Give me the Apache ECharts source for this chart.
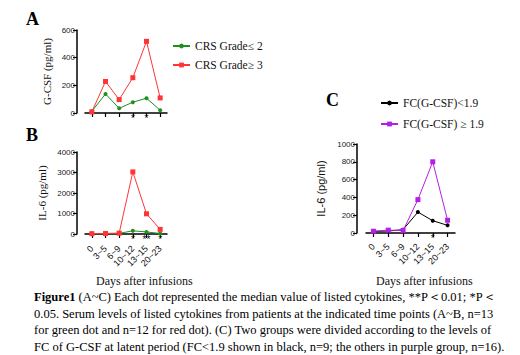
<!DOCTYPE html>
<html>
<head>
<meta charset="utf-8">
<script src="https://cdn.jsdelivr.net/npm/echarts@6/dist/echarts.min.js"></script>
<style>
  html, body { margin: 0; padding: 0; background: #fff; }
  #chart { width: 520px; height: 355px; }
</style>
</head>
<body>
<div id="chart"></div>
<script>
// time points (days after infusion)
const days = ['0', '3~5', '6~9', '10~12', '13~15', '20~23'];

// panel A: G-CSF medians
const gcsfLow = [12, 138, 34, 78, 107, 20];
const gcsfHigh = [8, 228, 97, 255, 518, 109];
const starsA = ['', '', '', '*', '*', ''];

// panel B: IL-6 medians
const il6Low = [20, 25, 30, 155, 100, 25];
const il6High = [15, 25, 40, 3030, 985, 225];
const starsB = ['', '', '', '*', '**', '*'];

// panel C: IL-6 by fold change of G-CSF
const fcLow = [18, 22, 38, 235, 138, 86];
const fcHigh = [20, 32, 28, 375, 800, 143];
const starsC = ['', '', '', '', '*', ''];

const captionLines = [
  '0.05. Serum levels of listed cytokines from patients at the indicated time points (A~B, n=13',
  'for green dot and n=12 for red dot). (C) Two groups were divided according to the levels of',
  'FC of G-CSF at latent period (FC<1.9 shown in black, n=9; the others in purple group, n=16).'
];

const SERIF = "'Liberation Serif', serif";
const SANS = "'Liberation Sans', sans-serif";

const GREEN = '#1f8f1f', RED = '#ff3535', BLACK = '#000', PURPLE = '#b41ee6';

const chart = echarts.init(document.getElementById('chart'), null, { renderer: 'svg' });

// helpers for the prism-like axes
function valueAxis(grid, max, interval, name, font, gap, offset) {
  return {
    type: 'value', gridIndex: grid, min: 0, max: max, interval: interval,
    offset: offset,
    name: name, nameLocation: 'middle', nameGap: gap, nameRotate: 90,
    nameTextStyle: { fontFamily: font, fontSize: 11, color: '#111' },
    axisLine: { show: true, lineStyle: { color: '#000', width: 1.5 } },
    axisTick: { show: true, length: 4, lineStyle: { color: '#000', width: 1.2 } },
    axisLabel: { fontFamily: SANS, fontSize: 8, color: '#222', margin: 2, formatter: v => String(v) },
    splitLine: { show: false }
  };
}
function dayAxis(grid, showLabels, offset) {
  return {
    type: 'category', gridIndex: grid, data: days, offset: offset,
    axisLine: { show: true, lineStyle: { color: '#000', width: 1.5 } },
    axisTick: { show: true, alignWithLabel: true, length: 4, lineStyle: { color: '#000', width: 1.2 } },
    axisLabel: { show: showLabels, rotate: 45, fontFamily: SANS, fontSize: 9, color: '#111', margin: 4, interval: 0 }
  };
}
function starAxis(grid, stars) {
  return {
    type: 'category', gridIndex: grid, data: days, position: 'bottom',
    axisLine: { show: false }, axisTick: { show: false },
    axisLabel: { interval: 0, margin: 0, fontFamily: SANS, fontSize: 10, color: '#111',
      formatter: (v, i) => stars[i] }
  };
}
function lineSeries(name, data, color, symbol, xi, yi) {
  return {
    type: 'line', name: name, data: data, xAxisIndex: xi, yAxisIndex: yi,
    symbol: symbol, symbolSize: symbol === 'rect' ? 5 : 4,
    lineStyle: { color: color, width: 1 }, itemStyle: { color: color },
    animation: false
  };
}

const option = {
  backgroundColor: '#fff',
  animation: false,
  grid: [
    { left: 85, width: 82, top: 30, height: 83 },
    { left: 85, width: 82, top: 152, height: 82 },
    { left: 366, width: 89, top: 144, height: 89 }
  ],
  xAxis: [
    dayAxis(0, false, 9), starAxis(0, starsA),
    dayAxis(1, true, 9), starAxis(1, starsB),
    dayAxis(2, true, 8), starAxis(2, starsC)
  ],
  yAxis: [
    valueAxis(0, 600, 200, 'G-CSF (pg/ml)', SERIF, 25, 8),
    valueAxis(1, 4000, 1000, 'IL-6 (pg/ml)', SERIF, 30, 8),
    valueAxis(2, 1000, 200, 'IL-6 (pg/ml)', SANS, 31, 9)
  ],
  legend: [
    {
      data: ['CRS Grade≤ 2', 'CRS Grade≥ 3'], orient: 'vertical', left: 167, top: 35,
      itemWidth: 17, itemHeight: 6, itemGap: 7,
      textStyle: { fontFamily: SERIF, fontSize: 11.5, color: '#111' }
    },
    {
      data: ['FC(G-CSF)<1.9', 'FC(G-CSF) ≥ 1.9'], orient: 'vertical', left: 375, top: 92,
      itemWidth: 17, itemHeight: 6, itemGap: 9,
      textStyle: { fontFamily: SERIF, fontSize: 11.5, color: '#111' }
    }
  ],
  series: [
    lineSeries('CRS Grade≤ 2', gcsfLow, GREEN, 'circle', 0, 0),
    lineSeries('CRS Grade≥ 3', gcsfHigh, RED, 'rect', 0, 0),
    lineSeries('CRS Grade≤ 2', il6Low, GREEN, 'circle', 2, 1),
    lineSeries('CRS Grade≥ 3', il6High, RED, 'rect', 2, 1),
    lineSeries('FC(G-CSF)<1.9', fcLow, BLACK, 'circle', 4, 2),
    lineSeries('FC(G-CSF) ≥ 1.9', fcHigh, PURPLE, 'rect', 4, 2)
  ],
  graphic: [
    { type: 'text', left: 26, top: 10, style: { text: 'A', font: 'bold 18px ' + SERIF, fill: '#000' } },
    { type: 'text', left: 26, top: 126, style: { text: 'B', font: 'bold 18px ' + SERIF, fill: '#000' } },
    { type: 'text', left: 326, top: 91, style: { text: 'C', font: 'bold 18px ' + SERIF, fill: '#000' } },
    { type: 'text', left: 96, top: 275, style: { text: 'Days after infusions', font: '12px ' + SERIF, fill: '#111' } },
    { type: 'text', left: 376, top: 275, style: { text: 'Days after infusions', font: '12px ' + SERIF, fill: '#111' } },
    {
      type: 'text', left: 34, top: 290,
      style: {
        text: '{b|Figure1} (A~C) Each dot represented the median value of listed cytokines, **P＜0.01; *P＜',
        font: '12.5px ' + SERIF, fill: '#000',
        rich: { b: { fontWeight: 'bold', fontFamily: SERIF, fontSize: 12.5 } }
      }
    }
  ].concat(captionLines.map((t, i) => ({
    type: 'text', left: 34, top: 307 + i * 16.7,
    style: { text: t, font: '12.5px ' + SERIF, fill: '#000' }
  })))
};

chart.setOption(option);
</script>
</body>
</html>
